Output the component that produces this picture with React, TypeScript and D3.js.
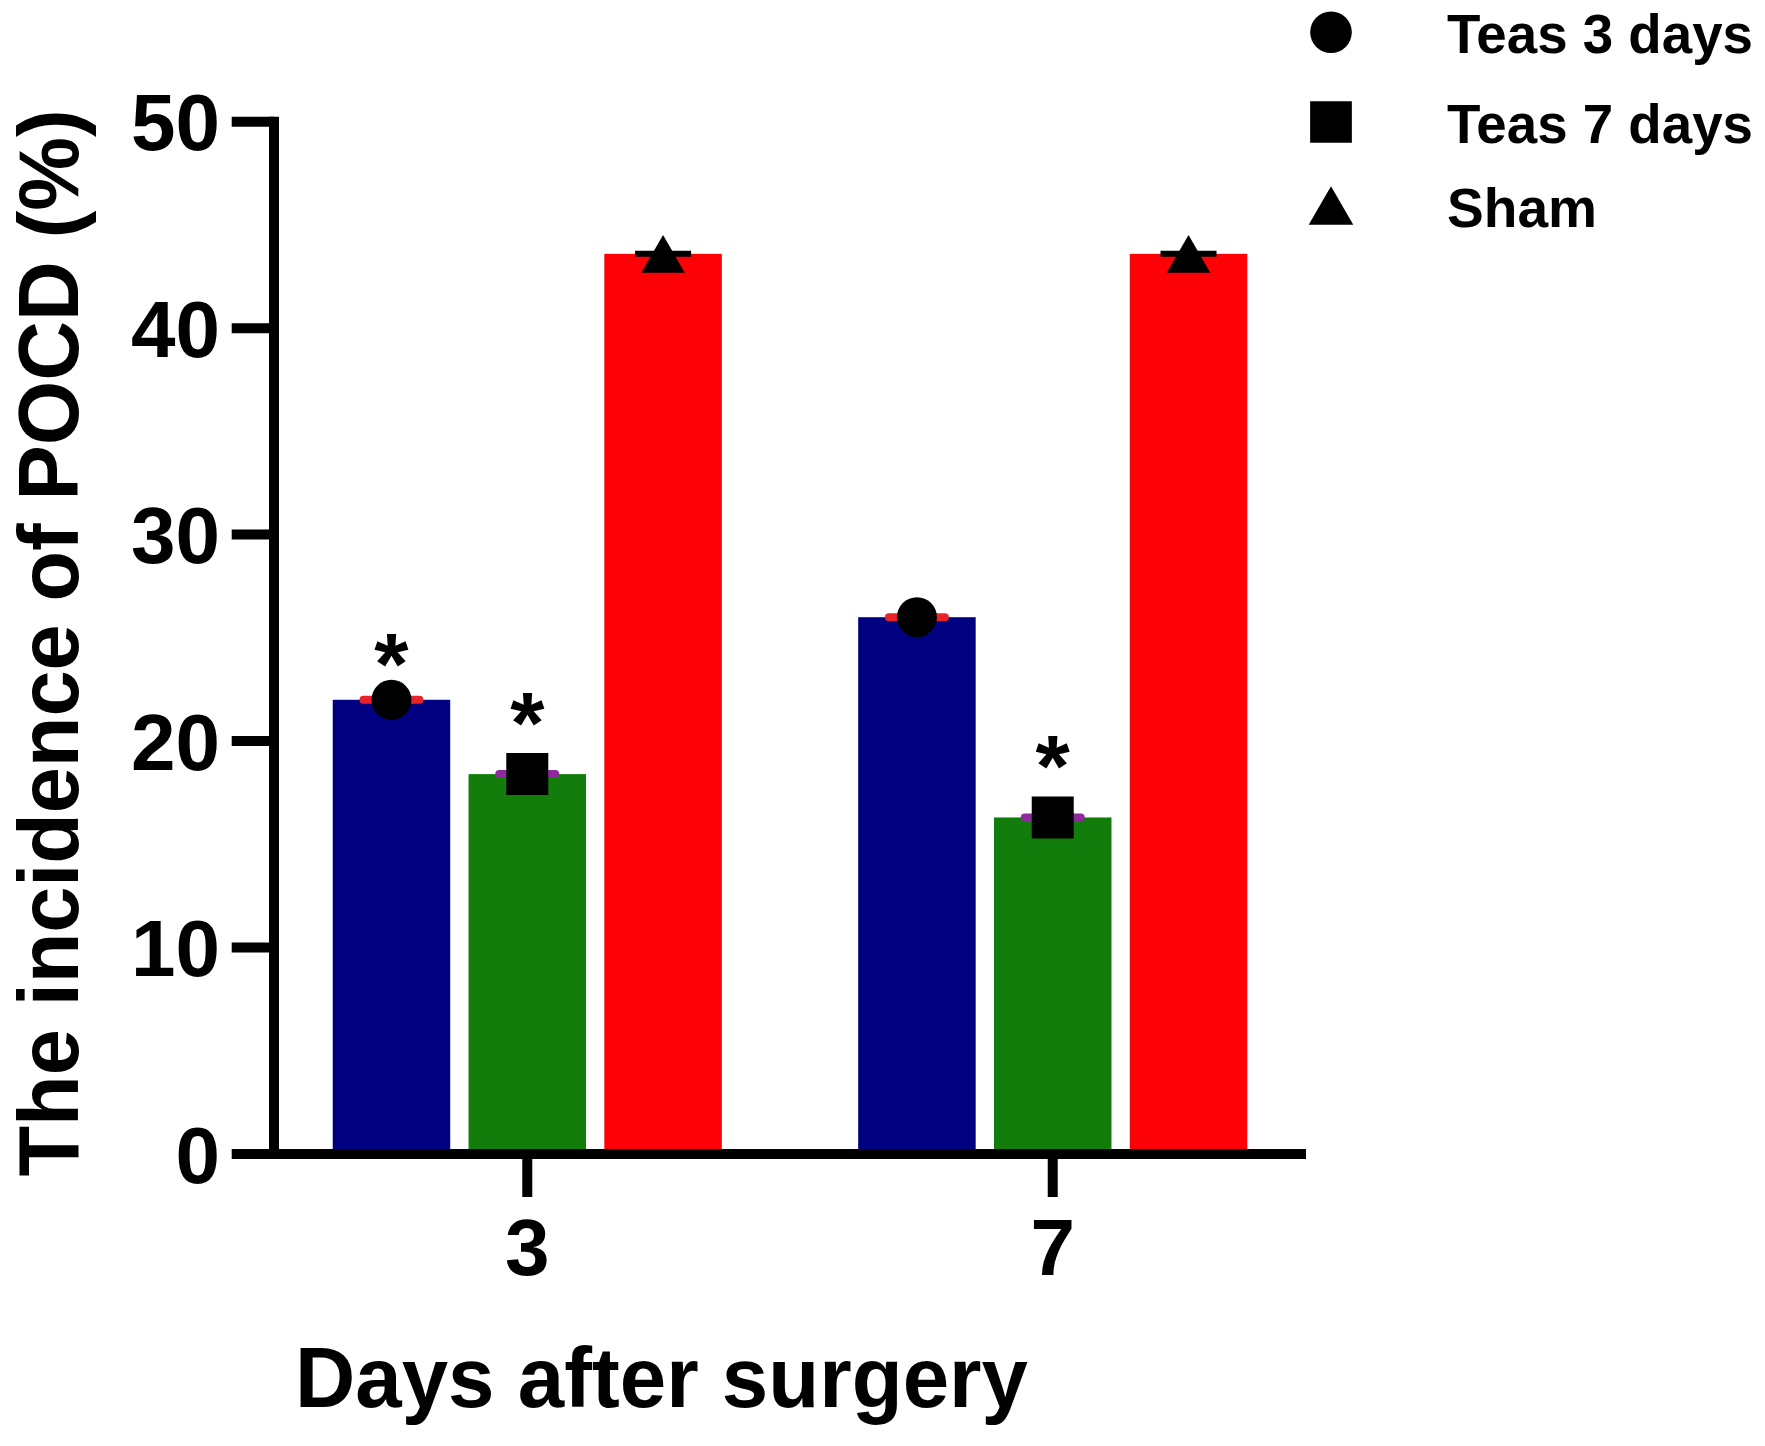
import React from "react";
import * as d3 from "d3";

// ---- data ----
const categories = ["3", "7"];
const seriesNames = ["Teas 3 days", "Teas 7 days", "Sham"];
const teas3Values = [22.0, 26.0];
const teas7Values = [18.4, 16.3];
const shamValues = [43.6, 43.6];
const teas3Sig = [true, false];
const teas7Sig = [true, true];
const shamSig = [false, false];
const yTicks = [0, 10, 20, 30, 40, 50];
const yTitle = "The incidence of POCD (%)";
const xTitle = "Days after surgery";

const W = 1765;
const H = 1446;
const FONT = "'Liberation Sans', Arial, Helvetica, sans-serif";

const barColors = ["#000080", "#137d0b", "#fc0207"];
const capColors = ["#e8242a", "#8e2a9e", "#000000"];
const symbols = [d3.symbolCircle, d3.symbolSquare, d3.symbolTriangle];
const symbolSizes = [1257, 1764, 820];
const starOffset = [56, 71, 68];

export default function App() {
  const values = [teas3Values, teas7Values, shamValues];
  const sigs = [teas3Sig, teas7Sig, shamSig];

  const y = d3.scaleLinear().domain([0, 50]).range([1154, 121.7]);
  const x = d3.scalePoint<string>().domain(categories).range([274, 1306]).padding(0.482);
  const sub = d3
    .scaleBand<string>()
    .domain(seriesNames)
    .range([-203.7, 203.7])
    .paddingInner(0.1348)
    .paddingOuter(0.0674);
  const bw = sub.bandwidth();

  const symPath = (i: number) => d3.symbol().type(symbols[i]).size(symbolSizes[i])() as string;
  // triangle: shift so bounding-box center sits on the value
  const symShift = (i: number, size: number) => {
    if (i !== 2) return 0;
    const r = Math.sqrt(size / (3 * Math.sqrt(3)));
    return r / 2;
  };

  const axisColor = "#000";
  const lw = 10;
  const legendSizes = [1360, 1740, 860];

  return (
    <svg
      width={W}
      height={H}
      viewBox={`0 0 ${W} ${H}`}
      style={{ position: "absolute", left: 0, top: 0, background: "#fff" }}
      fontFamily={FONT}
      fontWeight="bold"
    >
      <rect x={0} y={0} width={W} height={H} fill="#fff" />

      {/* bars */}
      {seriesNames.map((s, si) =>
        categories.map((c, ci) => {
          const v = values[si][ci];
          const x0 = (x(c) as number) + (sub(s) as number);
          return (
            <rect
              key={`b-${si}-${ci}`}
              x={x0}
              y={y(v)}
              width={bw}
              height={y(0) - y(v)}
              fill={barColors[si]}
            />
          );
        })
      )}

      {/* error caps */}
      {seriesNames.map((s, si) =>
        categories.map((c, ci) => {
          const v = values[si][ci];
          const cx = (x(c) as number) + (sub(s) as number) + bw / 2;
          return (
            <line
              key={`e-${si}-${ci}`}
              x1={cx - 28}
              x2={cx + 28}
              y1={y(v)}
              y2={y(v)}
              stroke={capColors[si]}
              strokeWidth={si === 2 ? 6 : 8}
              strokeLinecap={si === 2 ? "butt" : "round"}
            />
          );
        })
      )}

      {/* markers */}
      {seriesNames.map((s, si) =>
        categories.map((c, ci) => {
          const v = values[si][ci];
          const cx = (x(c) as number) + (sub(s) as number) + bw / 2;
          return (
            <path
              key={`m-${si}-${ci}`}
              d={symPath(si)}
              transform={`translate(${cx},${y(v) + symShift(si, symbolSizes[si])})`}
              fill="#000"
            />
          );
        })
      )}

      {/* significance stars */}
      {seriesNames.map((s, si) =>
        categories.map((c, ci) => {
          if (!sigs[si][ci]) return null;
          const v = values[si][ci];
          const cx = (x(c) as number) + (sub(s) as number) + bw / 2;
          return (
            <text
              key={`s-${si}-${ci}`}
              x={cx}
              y={y(v) - starOffset[si] + 50}
              textAnchor="middle"
              fontSize={88}
              fill="#000"
            >
              *
            </text>
          );
        })
      )}

      {/* y axis */}
      <line x1={274} x2={274} y1={y(50) - lw / 2} y2={y(0) + lw / 2} stroke={axisColor} strokeWidth={lw} />
      {yTicks.map((t) => (
        <g key={`yt-${t}`}>
          <line x1={231.7} x2={274} y1={y(t)} y2={y(t)} stroke={axisColor} strokeWidth={lw} />
          <text x={220} y={y(t) + 28.6} textAnchor="end" fontSize={80} fill="#000">
            {t}
          </text>
        </g>
      ))}

      {/* x axis */}
      <line x1={269} x2={1306} y1={y(0)} y2={y(0)} stroke={axisColor} strokeWidth={lw} />
      {categories.map((c) => (
        <g key={`xt-${c}`}>
          <line x1={x(c)} x2={x(c)} y1={y(0)} y2={y(0) + 43} stroke={axisColor} strokeWidth={lw} />
          <text x={x(c)} y={1275} textAnchor="middle" fontSize={80} fill="#000">
            {c}
          </text>
        </g>
      ))}

      {/* axis titles */}
      <text
        x={295}
        y={1406.7}
        fontSize={85}
        fill="#000"
        textLength={733}
        lengthAdjust="spacingAndGlyphs"
      >
        {xTitle}
      </text>
      <text
        transform={`translate(78,643) rotate(-90)`}
        textAnchor="middle"
        fontSize={86}
        fill="#000"
        textLength={1067}
        lengthAdjust="spacingAndGlyphs"
      >
        {yTitle}
      </text>

      {/* legend */}
      {seriesNames.map((s, si) => {
        const cy = [32.3, 122, 205.5][si];
        return (
          <g key={`lg-${si}`}>
            <path
              d={d3.symbol().type(symbols[si]).size(legendSizes[si])() as string}
              transform={`translate(1331,${cy + symShift(si, legendSizes[si])})`}
              fill="#000"
            />
            <text
              x={1447}
              y={cy + 21}
              fontSize={55}
              fill="#000"
              textLength={si === 2 ? 150 : 306}
              lengthAdjust="spacingAndGlyphs"
            >
              {s}
            </text>
          </g>
        );
      })}
    </svg>
  );
}
